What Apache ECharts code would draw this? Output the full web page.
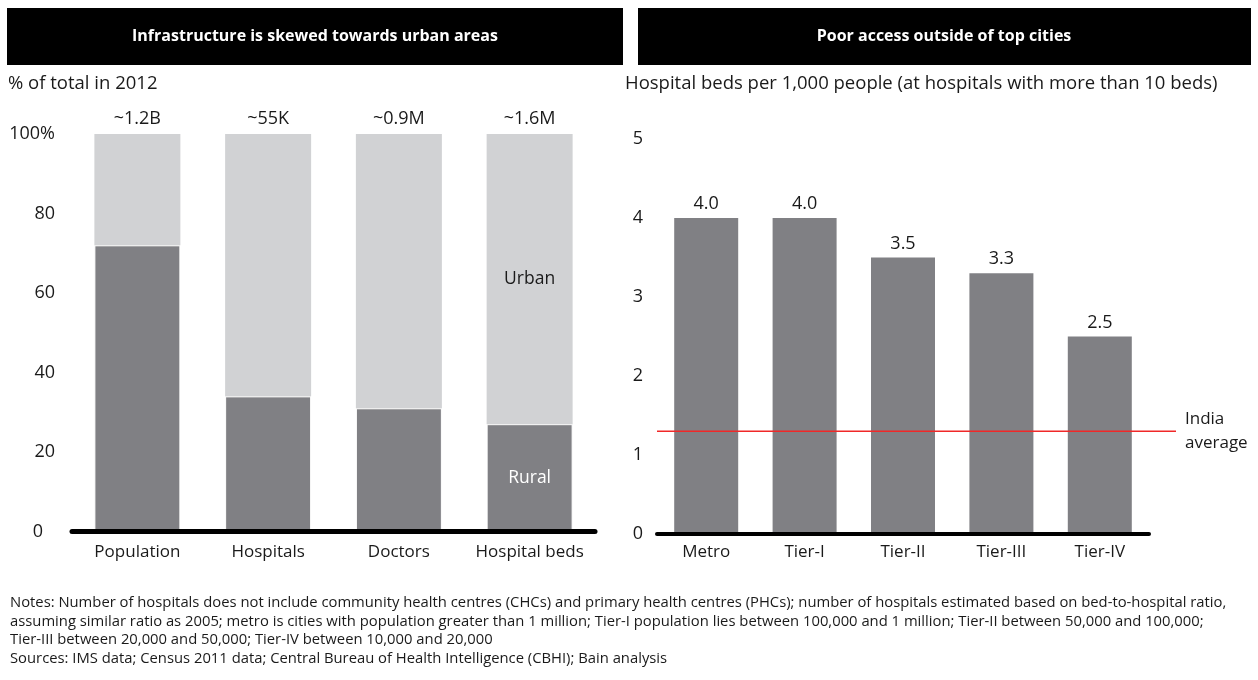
<!DOCTYPE html>
<html>
<head>
<meta charset="utf-8">
<script src="https://cdn.jsdelivr.net/npm/echarts@6/dist/echarts.min.js"></script>
<style>
  html, body { margin: 0; padding: 0; background: #fff; }
  #chart { width: 1258px; height: 680px; }
</style>
</head>
<body>
<div id="chart"></div>
<script>
// Left panel: urban / rural split, % of total in 2012
const mixCategories = ['Population', 'Hospitals', 'Doctors', 'Hospital beds'];
const ruralShare = [72, 34, 31, 27];
const urbanShare = [28, 66, 69, 73];
const shareTotal = [100, 100, 100, 100];
const totalLabels = ['~1.2B', '~55K', '~0.9M', '~1.6M'];

// Right panel: hospital beds per 1,000 people
const tierCategories = ['Metro', 'Tier-I', 'Tier-II', 'Tier-III', 'Tier-IV'];
const bedsPer1000 = [4.0, 4.0, 3.5, 3.3, 2.5];
const indiaAverage = 1.3;

const notes = [
  'Notes: Number of hospitals does not include community health centres (CHCs) and primary health centres (PHCs); number of hospitals estimated based on bed-to-hospital ratio,',
  'assuming similar ratio as 2005; metro is cities with population greater than 1 million; Tier-I population lies between 100,000 and 1 million; Tier-II between 50,000 and 100,000;',
  'Tier-III between 20,000 and 50,000; Tier-IV between 10,000 and 20,000',
  'Sources: IMS data; Census 2011 data; Central Bureau of Health Intelligence (CBHI); Bain analysis'
];

const FONT = '"Open Sans", "Liberation Sans", sans-serif';
const DARK = '#808084';
const LIGHT = '#d1d2d4';
const INK = '#1a1a1a';

const chart = echarts.init(document.getElementById('chart'), null, { renderer: 'canvas' });

const headerGraphics = [
  { type: 'rect', left: 7, top: 8, shape: { width: 616, height: 57 }, style: { fill: '#000' } },
  { type: 'rect', left: 638, top: 8, shape: { width: 613, height: 57 }, style: { fill: '#000' } },
  { type: 'text', x: 315, y: 36, style: { text: 'Infrastructure is skewed towards urban areas', fill: '#fff', font: 'bold 16px ' + FONT, textAlign: 'center', textVerticalAlign: 'middle' } },
  { type: 'text', x: 944, y: 36, style: { text: 'Poor access outside of top cities', fill: '#fff', font: 'bold 16px ' + FONT, textAlign: 'center', textVerticalAlign: 'middle' } },
  { type: 'text', x: 8, y: 84, style: { text: '% of total in 2012', fill: INK, font: '18.5px ' + FONT, textVerticalAlign: 'middle' } },
  { type: 'text', x: 625, y: 84, style: { text: 'Hospital beds per 1,000 people (at hospitals with more than 10 beds)', fill: INK, font: '18.5px ' + FONT, textVerticalAlign: 'middle' } }
];
const noteGraphics = notes.map((line, i) => ({
  type: 'text', x: 10, y: 603 + i * 18.5,
  style: { text: line, fill: INK, font: '14.8px ' + FONT, textVerticalAlign: 'middle' }
}));

const tickText = { color: INK, fontSize: 18, fontFamily: FONT };
const catText = { color: INK, fontSize: 17, fontFamily: FONT, interval: 0 };

chart.setOption({
  animation: false,
  textStyle: { fontFamily: FONT },
  graphic: headerGraphics.concat(noteGraphics),
  grid: [
    { left: 72, right: 1258 - 595, top: 134, bottom: 148.5 },
    { left: 657, right: 1258 - 1149, top: 139, bottom: 146 },
    { left: 657, right: 1258 - 1176, top: 139, bottom: 146 }
  ],
  xAxis: [
    {
      type: 'category', gridIndex: 0, data: mixCategories, z: 5,
      axisLine: { lineStyle: { color: '#000', width: 5 } },
      axisTick: { show: false },
      axisLabel: Object.assign({ margin: 12 }, catText)
    },
    {
      type: 'category', gridIndex: 1, data: tierCategories, z: 5,
      axisLine: { lineStyle: { color: '#000', width: 4 } },
      axisTick: { show: false },
      axisLabel: Object.assign({ margin: 10 }, catText)
    },
    { type: 'value', gridIndex: 2, min: 0, max: 1, show: false }
  ],
  yAxis: [
    {
      type: 'value', gridIndex: 0, min: 0, max: 100, interval: 20,
      axisLine: { show: false }, axisTick: { show: false }, splitLine: { show: false },
      axisLabel: Object.assign({
        margin: 17,
        formatter: v => v === 100 ? '100%' : (v === 0 ? '{z|0}' : String(v)),
        rich: { z: { fontSize: 18, fontFamily: FONT, color: INK, padding: [0, 12, 0, 0] } }
      }, tickText)
    },
    {
      type: 'value', gridIndex: 1, min: 0, max: 5, interval: 1,
      axisLine: { show: false }, axisTick: { show: false }, splitLine: { show: false },
      axisLabel: Object.assign({ margin: 14 }, tickText)
    },
    { type: 'value', gridIndex: 2, min: 0, max: 5, show: false }
  ],
  series: [
    {
      name: 'Total', type: 'bar', xAxisIndex: 0, yAxisIndex: 0,
      data: shareTotal, barWidth: 86, barGap: '-100%', silent: true, z: 1,
      itemStyle: { color: 'rgba(0,0,0,0)' },
      label: {
        show: true, position: 'top', distance: 6, color: INK, fontSize: 18, fontFamily: FONT,
        formatter: p => totalLabels[p.dataIndex]
      }
    },
    {
      name: 'Rural', type: 'bar', stack: 'share', xAxisIndex: 0, yAxisIndex: 0, barWidth: 86,
      itemStyle: { color: DARK, borderColor: '#fff', borderWidth: 1 },
      data: ruralShare.map((v, i) => ({
        value: v,
        label: { show: i === mixCategories.length - 1 }
      })),
      label: { position: 'inside', color: '#fff', fontSize: 17.5, fontFamily: FONT, formatter: 'Rural' }
    },
    {
      name: 'Urban', type: 'bar', stack: 'share', xAxisIndex: 0, yAxisIndex: 0, barWidth: 86,
      itemStyle: { color: LIGHT },
      data: urbanShare.map((v, i) => ({
        value: v,
        label: { show: i === mixCategories.length - 1 }
      })),
      label: { position: 'inside', color: INK, fontSize: 17.5, fontFamily: FONT, formatter: 'Urban' }
    },
    {
      name: 'Beds per 1,000', type: 'bar', xAxisIndex: 1, yAxisIndex: 1, barWidth: 64,
      data: bedsPer1000,
      itemStyle: { color: DARK },
      label: {
        show: true, position: 'top', distance: 5, color: INK, fontSize: 18, fontFamily: FONT,
        formatter: p => p.value.toFixed(1)
      }
    },
    {
      name: 'India average', type: 'line', xAxisIndex: 2, yAxisIndex: 2, z: 6,
      data: [[0, indiaAverage], [1, indiaAverage]],
      symbol: 'none', silent: true,
      lineStyle: { color: '#f02828', width: 1.5 },
      endLabel: {
        show: true, distance: 9, color: INK, fontSize: 17, fontFamily: FONT,
        lineHeight: 24, formatter: 'India\naverage', align: 'left'
      }
    }
  ]
});
</script>
</body>
</html>
